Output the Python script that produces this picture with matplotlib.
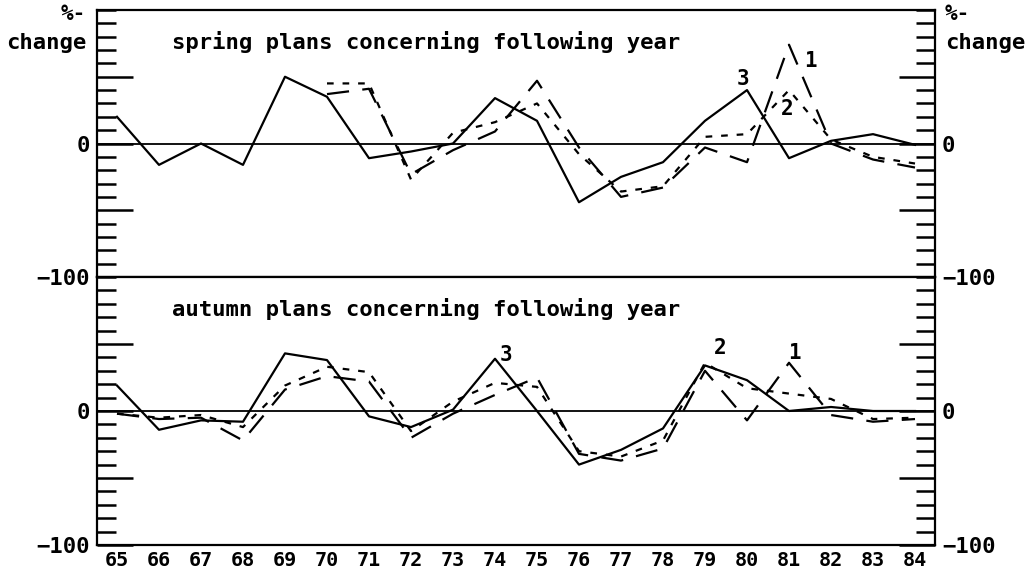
import numpy as np
import matplotlib.pyplot as plt
from matplotlib.ticker import MultipleLocator

# data (percent change, years 65..84)
years = np.arange(65, 85)
nan = np.nan

spring_1 = [nan, nan, nan, nan, nan, 37, 41, -23, -5, 9, 47, -3, -40, -33, -3, -14, 74, 0, -12, -18]
spring_2 = [nan, nan, nan, nan, nan, 45, 45, -27, 8, 16, 30, -8, -36, -32, 5, 7, 40, 3, -10, -15]
spring_3 = [20, -16, 0, -16, 50, 35, -11, -6, 0, 34, 17, -44, -25, -14, 17, 40, -11, 2, 7, -1]

autumn_1 = [-2, -6, -5, -22, 16, 26, 22, -20, -2, 12, 25, -32, -37, -28, 30, -7, 36, -3, -8, -6]
autumn_2 = [-2, -5, -3, -12, 19, 33, 29, -15, 7, 21, 18, -30, -34, -22, 36, 17, 13, 9, -6, -5]
autumn_3 = [19, -14, -7, -8, 43, 38, -4, -12, 1, 39, 0, -40, -29, -13, 34, 23, 0, 3, 0, 0]

spring_title = "spring plans concerning following year"
autumn_title = "autumn plans concerning following year"

# curve numbers: (text, year, value)
spring_marks = [("3", 79.9, 48), ("1", 81.5, 62), ("2", 80.95, 26)]
autumn_marks = [("3", 74.26, 42), ("2", 79.36, 47), ("1", 81.14, 43)]

plt.rcParams['font.family'] = 'DejaVu Sans Mono'
plt.rcParams['font.weight'] = 'bold'

W, H = 1035, 574
fig = plt.figure(figsize=(W / 100, H / 100), dpi=100)
ax_top = fig.add_axes([97 / W, (H - 277) / H, 838 / W, 267 / H])
ax_bot = fig.add_axes([97 / W, (H - 545) / H, 838 / W, 268 / H])

panels = [
    (ax_top, spring_1, spring_2, spring_3, spring_title, spring_marks),
    (ax_bot, autumn_1, autumn_2, autumn_3, autumn_title, autumn_marks),
]

for ax, s1, s2, s3, title, marks in panels:
    ax.plot(years, s3, color='black', lw=1.6)
    ax.plot(years, s1, color='black', lw=1.6, dashes=(10, 6))
    ax.plot(years, s2, color='black', lw=1.6, dashes=(3, 4))
    ax.axhline(0, color='black', lw=1.3)
    ax.set_xlim(64.524, 84.476)
    ax.set_ylim(-100, 100)
    ax.set_yticks([-100, -50, 0, 50])
    ax.set_yticklabels(['\u2212100', '', '0', ''])
    ax.yaxis.set_minor_locator(MultipleLocator(10))
    ax.tick_params(axis='y', which='both', direction='in', left=True, right=True,
                   labelleft=True, labelright=True, width=1.8, labelsize=16, pad=5)
    ax.tick_params(axis='y', which='major', length=26)
    ax.tick_params(axis='y', which='minor', length=13.7)
    for sp in ax.spines.values():
        sp.set_linewidth(1.6)
    ax.text(66.31, 76, title, fontsize=16, ha='left', va='center')
    for txt, x, y in marks:
        ax.text(x, y, txt, fontsize=15, ha='center', va='center')

ax_top.set_xticks([])
ax_bot.set_xticks(years)
ax_bot.set_xticklabels([str(y) for y in years])
ax_bot.tick_params(axis='x', length=0, pad=4, labelsize=14.5)

# unit labels on both sides
fig.text(86 / W, 1 - 20 / H, "%-", fontsize=15, ha='right', va='baseline')
fig.text(86 / W, 1 - 43 / H, "change", fontsize=16, ha='right', va='center')
fig.text(945 / W, 1 - 20 / H, "%-", fontsize=15, ha='left', va='baseline')
fig.text(945 / W, 1 - 43 / H, "change", fontsize=16, ha='left', va='center')

fig.savefig('out.png', dpi=100)
